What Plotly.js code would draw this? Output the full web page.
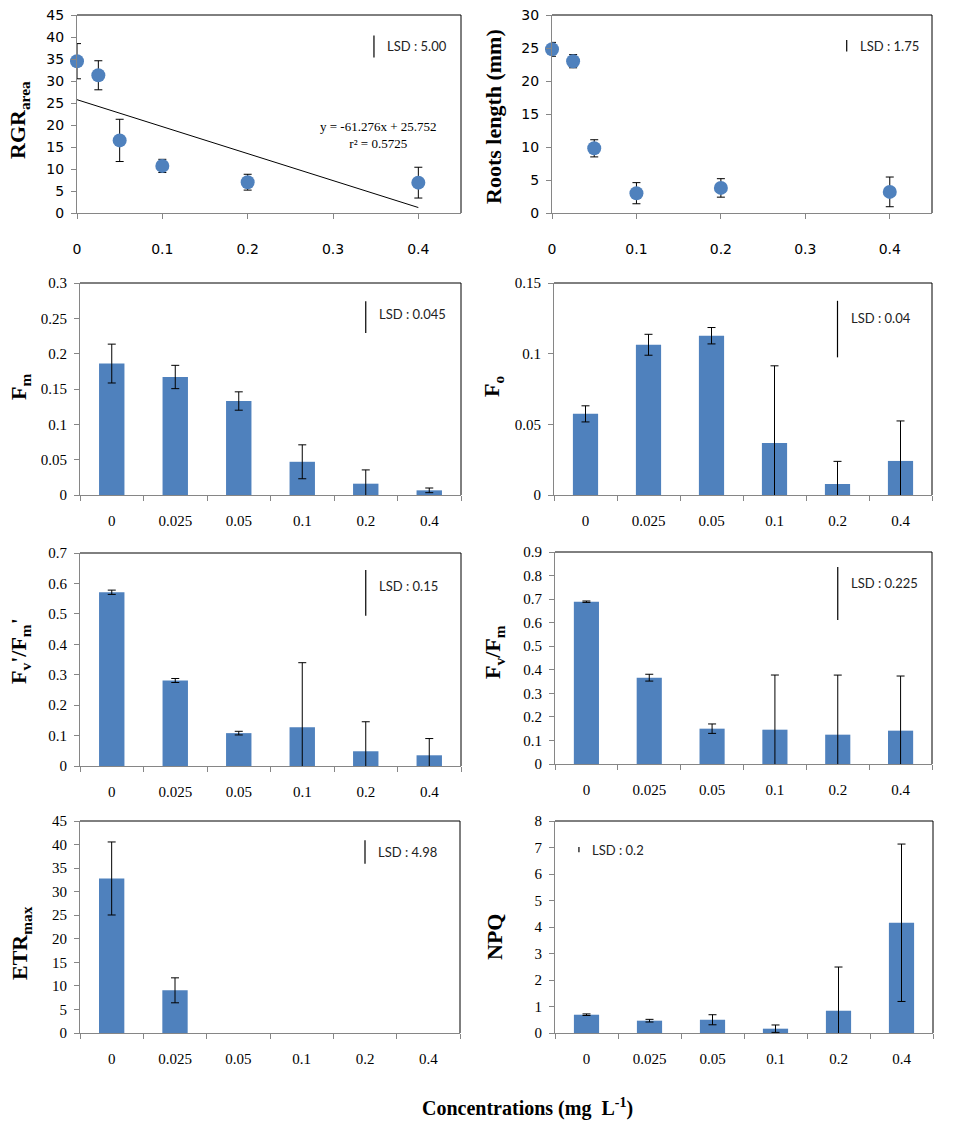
<!DOCTYPE html>
<html>
<head>
<meta charset="utf-8">
<script src="https://cdn.plot.ly/plotly-3.0.1.min.js"></script>
<style>html,body{margin:0;padding:0;background:#fff}#chart{width:956px;height:1136px}</style>
</head>
<body>
<div id="chart"></div>
<script>
// ---------- data ----------
const concLabels = ['0', '0.025', '0.05', '0.1', '0.2', '0.4'];
const concValues = [0, 0.025, 0.05, 0.1, 0.2, 0.4];

const rgrArea = [34.5, 31.3, 16.5, 10.7, 7.0, 6.9];
const rgrAreaErr = [4.0, 3.3, 4.8, 1.5, 1.8, 3.5];
const trendSlope = -61.276;
const trendIntercept = 25.752;
const trendR2 = '0.5725';

const rootsLength = [24.8, 23.0, 9.8, 3.0, 3.8, 3.2];
const rootsLengthErr = [1.05, 1.0, 1.3, 1.6, 1.4, 2.25];

const fm = [0.186, 0.167, 0.133, 0.047, 0.016, 0.0066];
const fmErr = [0.0275, 0.0165, 0.013, 0.024, 0.0195, 0.0033];

const fo = [0.0574, 0.1063, 0.1127, 0.0368, 0.0078, 0.0241];
const foErr = [0.0057, 0.0074, 0.0058, 0.0546, 0.016, 0.0283];

const fvfmPrime = [0.571, 0.281, 0.108, 0.1275, 0.0484, 0.0352];
const fvfmPrimeErr = [0.007, 0.0066, 0.006, 0.212, 0.097, 0.055];

const fvfm = [0.689, 0.3665, 0.150, 0.1457, 0.1245, 0.1415];
const fvfmErr = [0.003, 0.0145, 0.02, 0.232, 0.253, 0.232];

const etrMax = [32.8, 9.06, null, null, null, null];
const etrMaxErr = [7.75, 2.65, null, null, null, null];

const npq = [0.69, 0.465, 0.50, 0.163, 0.84, 4.16];
const npqErr = [0.03, 0.05, 0.19, 0.14, 1.65, 2.97];

const lsdValues = [5.00, 1.75, 0.045, 0.04, 0.15, 0.225, 4.98, 0.2];
const lsdLabels = ['LSD : 5.00', 'LSD : 1.75', 'LSD : 0.045', 'LSD : 0.04', 'LSD : 0.15', 'LSD : 0.225', 'LSD : 4.98', 'LSD : 0.2'];

const yTitles = ['RGR<sub>area</sub>', 'Roots length (mm)', 'F<sub>m</sub>', 'F<sub>o</sub>',
  "F<sub>v</sub>'/F<sub>m</sub>'", 'F<sub>v</sub>/F<sub>m</sub>', 'ETR<sub>max</sub>', 'NPQ'];
const xTitle = 'Concentrations (mg  L<sup>-1</sup>)';

// ---------- style / layout ----------
const W = 956, H = 1136;
const BLUE = '#4F81BD', GREY = '#868686';
const px = p => p / W;
const py = p => 1 - p / H;

// panel geometry in pixels and y settings
const panels = [
  {xd:[77,461],  yd:[15,213],  yr:[0,45],   dt:5,    kind:'scatter', lsdX:0.348, lsdY:37.85, lsdShift:0, title:[19,120]},
  {xd:[552,932], yd:[15,213],  yr:[0,30],   dt:5,    kind:'scatter', lsdX:0.349, lsdY:25.35, lsdShift:0, title:[493,117]},
  {xd:[80,461],  yd:[283,495], yr:[0,0.3],  dt:0.05, kind:'bar', lsdX:4, lsdY:0.2518, lsdShift:3, title:[20,387]},
  {xd:[554,932], yd:[283,495], yr:[0,0.15], dt:0.05, kind:'bar', lsdX:4, lsdY:0.1174, lsdShift:11, title:[493,387]},
  {xd:[80,461],  yd:[553,766], yr:[0,0.7],  dt:0.1,  kind:'bar', lsdX:4, lsdY:0.569, lsdShift:7, title:[20,651]},
  {xd:[555,932], yd:[552,764], yr:[0,0.9],  dt:0.1,  kind:'bar', lsdX:4, lsdY:0.724, lsdShift:10, title:[494,652]},
  {xd:[80,460],  yd:[821,1033],yr:[0,45],   dt:5,    kind:'bar', lsdX:4, lsdY:38.4, lsdShift:0, title:[21,943]},
  {xd:[555,933], yd:[821,1033],yr:[0,8],    dt:1,    kind:'bar', lsdX:-0.12, lsdY:6.92, lsdShift:0, title:[494,937]}
];

const seriesY = [rgrArea, rootsLength, fm, fo, fvfmPrime, fvfm, etrMax, npq];
const seriesErr = [rgrAreaErr, rootsLengthErr, fmErr, foErr, fvfmPrimeErr, fvfmErr, etrMaxErr, npqErr];

const data = [];
const layout = {
  width: W, height: H,
  margin: {l:0, r:0, t:0, b:0},
  paper_bgcolor: '#fff', plot_bgcolor: '#fff',
  showlegend: false,
  shapes: [], annotations: []
};

const serif = 'Liberation Serif, Times New Roman, serif';
const sans = 'DejaVu Sans, Verdana, sans-serif';
const lsdFont = {family: 'Lato, Open Sans, sans-serif', size: 13, color: '#222'};

panels.forEach((p, i) => {
  const n = i + 1;
  const xa = n === 1 ? 'x' : 'x' + n;
  const ya = n === 1 ? 'y' : 'y' + n;
  const xk = n === 1 ? 'xaxis' : 'xaxis' + n;
  const yk = n === 1 ? 'yaxis' : 'yaxis' + n;
  const isScatter = p.kind === 'scatter';
  const tickFont = isScatter ? {family: sans, size: 14, color: '#000'} : {family: serif, size: 15, color: '#000'};

  if (isScatter) {
    data.push({
      type: 'scatter', mode: 'markers', x: concValues, y: seriesY[i],
      xaxis: xa, yaxis: ya, cliponaxis: false,
      marker: {color: BLUE, size: 14},
      error_y: {type: 'data', array: seriesErr[i], visible: true, color: '#000', thickness: 1, width: 4}
    });
    layout[xk] = {
      domain: [px(p.xd[0]), px(p.xd[1])], anchor: ya,
      range: [0, 0.45], tick0: 0, dtick: 0.1, tickmode: 'array', tickvals: [0, 0.1, 0.2, 0.3, 0.4],
      ticktext: ['0', '0.1', '0.2', '0.3', '0.4'],
      showline: true, linecolor: GREY, linewidth: 1,
      ticks: 'outside', ticklen: 5, tickcolor: GREY,
      showgrid: false, zeroline: false, tickfont: tickFont, ticklabelstandoff: 18, fixedrange: true
    };
  } else {
    data.push({
      type: 'bar', x: concLabels, y: seriesY[i], xaxis: xa, yaxis: ya,
      width: 0.4, marker: {color: BLUE, line: {width: 0}},
      error_y: {type: 'data', array: seriesErr[i], visible: true, color: '#000', thickness: 1, width: 4}
    });
    layout[xk] = {
      domain: [px(p.xd[0]), px(p.xd[1])], anchor: ya,
      type: 'category', tickson: 'boundaries', range: [-0.5, 5.5],
      showline: true, linecolor: GREY, linewidth: 1,
      ticks: 'outside', ticklen: 5, tickcolor: GREY,
      showgrid: false, zeroline: false, tickfont: tickFont, ticklabelstandoff: 12, fixedrange: true
    };
  }
  layout[yk] = {
    domain: [py(p.yd[1]), py(p.yd[0])], anchor: xa,
    range: p.yr, tick0: 0, dtick: p.dt,
    showline: true, linecolor: GREY, linewidth: 1,
    ticks: 'outside', ticklen: 5, tickcolor: GREY,
    showgrid: false, zeroline: false, tickfont: tickFont, ticklabelstandoff: 4, fixedrange: true
  };

  // top and right black border of plot area
  layout.shapes.push({type: 'line', xref: xa + ' domain', yref: ya + ' domain', x0: 0, x1: 1, y0: 1, y1: 1, line: {color: '#000', width: 1}});
  layout.shapes.push({type: 'line', xref: xa + ' domain', yref: ya + ' domain', x0: 1, x1: 1, y0: 0, y1: 1, line: {color: '#000', width: 1}});

  // LSD bar (length = LSD value) and label
  const L = lsdValues[i];
  layout.shapes.push({type: 'line', xref: xa, yref: ya, x0: p.lsdX, x1: p.lsdX,
    y0: p.lsdY - L / 2, y1: p.lsdY + L / 2, line: {color: '#000', width: 1.2}});
  layout.annotations.push({xref: xa, yref: ya, x: p.lsdX, y: p.lsdY, xanchor: 'left', yanchor: 'middle',
    xshift: 11, yshift: p.lsdShift, text: lsdLabels[i], showarrow: false, font: lsdFont});

  // y axis title
  layout.annotations.push({xref: 'paper', yref: 'paper', x: px(p.title[0]), y: py(p.title[1]),
    xanchor: 'center', yanchor: 'middle', textangle: -90, text: yTitles[i], showarrow: false,
    font: {family: serif, size: 22, color: '#000', weight: 'bold'}});
});

// trend line for RGR area
const trendX = [concValues[0], concValues[concValues.length - 1]];
data.push({
  type: 'scatter', mode: 'lines', x: trendX, y: trendX.map(v => trendSlope * v + trendIntercept),
  xaxis: 'x', yaxis: 'y', line: {color: '#000', width: 1}, hoverinfo: 'skip'
});
layout.annotations.push({xref: 'x', yref: 'y', x: 0.353, y: 17.8, xanchor: 'center', yanchor: 'middle',
  text: 'y = ' + trendSlope + 'x + ' + trendIntercept + '<br>r² = ' + trendR2, showarrow: false,
  font: {family: serif, size: 13, color: '#000'}});

// common x title
layout.annotations.push({xref: 'paper', yref: 'paper', x: px(527), y: py(1107), xanchor: 'center', yanchor: 'middle',
  text: xTitle, showarrow: false, font: {family: serif, size: 20, color: '#000', weight: 'bold'}});

Plotly.newPlot('chart', data, layout, {displayModeBar: false, staticPlot: true});
</script>
</body>
</html>
